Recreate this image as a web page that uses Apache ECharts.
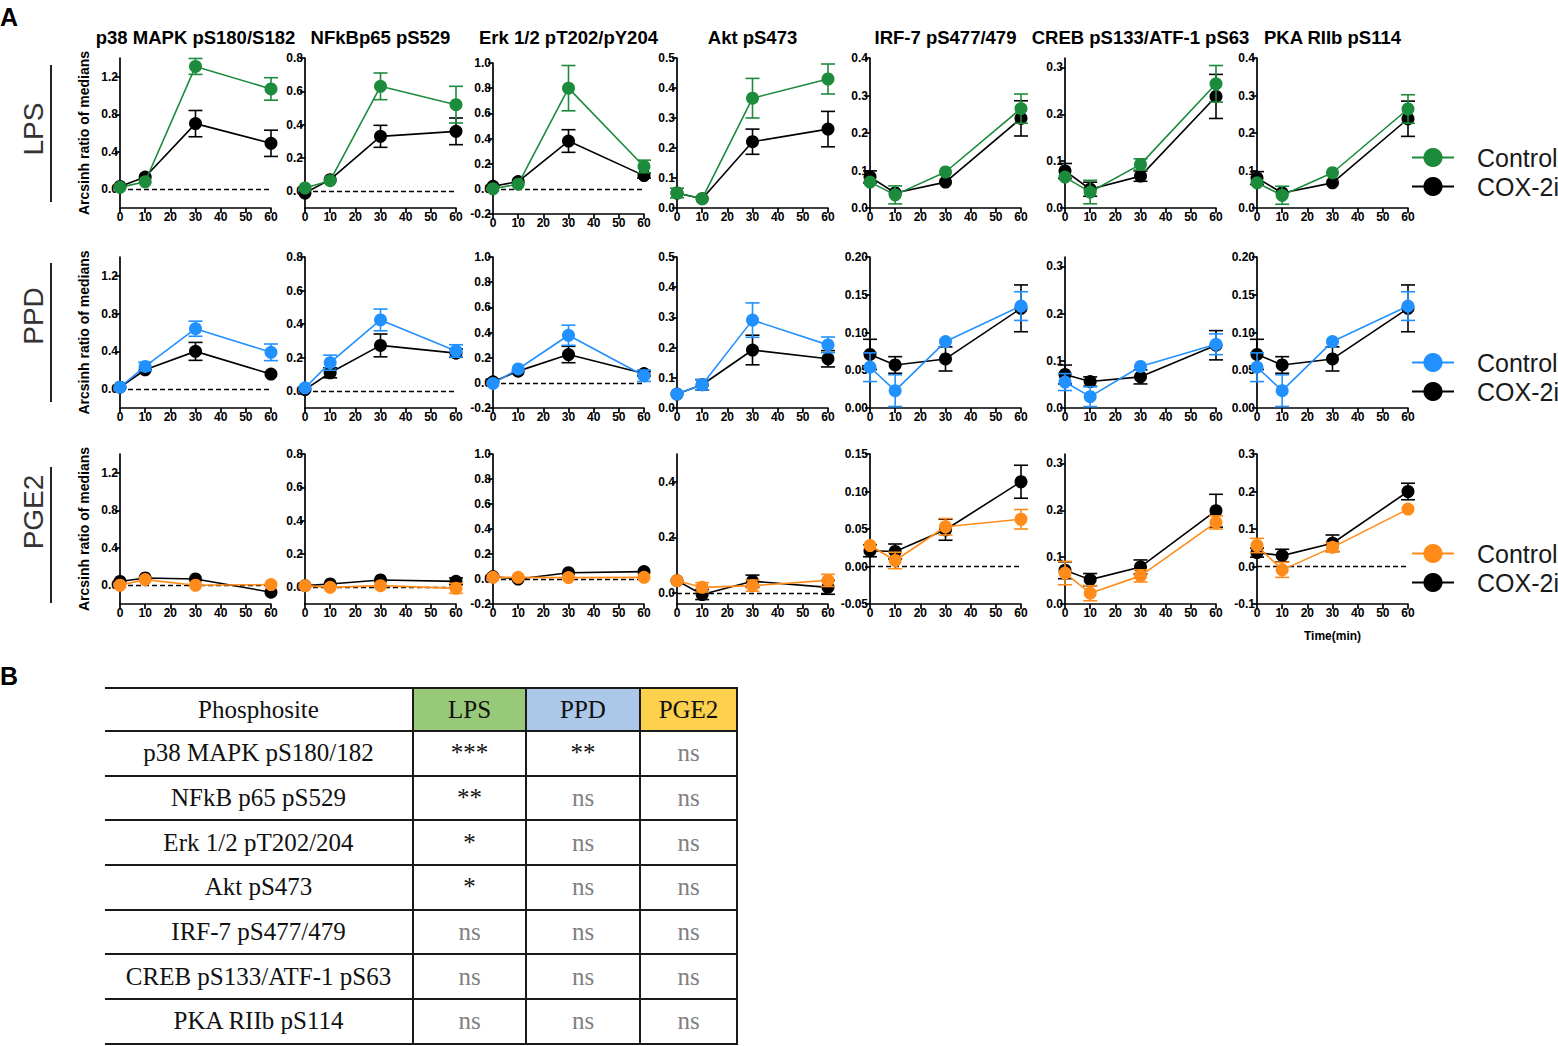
<!DOCTYPE html>
<html>
<head>
<meta charset="utf-8">
<script src="https://cdn.jsdelivr.net/npm/echarts@6/dist/echarts.min.js"></script>
<style>
html,body{margin:0;padding:0;background:#fff;}
#chart{position:absolute;left:0;top:0;width:1558px;height:1046px;}
#tbl{position:absolute;left:105px;top:687px;border-collapse:collapse;table-layout:fixed;font-family:"Liberation Serif","Times New Roman",serif;font-size:25px;color:#111;}
#tbl td{border-top:2px solid #1a1a1a;border-bottom:2px solid #1a1a1a;border-right:2px solid #1a1a1a;text-align:center;padding:0;white-space:nowrap;}
#tbl td.ns{color:#808080;}
</style>
</head>
<body>
<div id="chart"></div>
<table id="tbl"></table>
<script>
// ---------------- DATA ----------------
const times = [0, 10, 30, 60];
const xTickLabels = ['0', '10', '20', '30', '40', '50', '60'];
const panelTitles = ['p38 MAPK pS180/S182', 'NFkBp65 pS529', 'Erk 1/2 pT202/pY204', 'Akt pS473', 'IRF-7 pS477/479', 'CREB pS133/ATF-1 pS63', 'PKA RIIb pS114'];
const stimulusNames = ['LPS', 'PPD', 'PGE2'];
const seriesNames = ['Control', 'COX-2i'];
const yAxisTitle = 'Arcsinh ratio of medians';
const xAxisTitle = 'Time(min)';

// LPS
const lpsControlMean = [[0.02,0.08,1.31,1.07],[0.02,0.064,0.63,0.52],[0.0,0.037,0.80,0.178],[0.05,0.031,0.366,0.43],[0.069,0.035,0.096,0.265],[0.066,0.034,0.093,0.265],[0.067,0.034,0.094,0.264]];
const lpsControlErr  = [[0,0,0.085,0.12],[0,0,0.08,0.11],[0,0,0.18,0.05],[0.016,0,0.066,0.05],[0,0.024,0,0.039],[0,0.025,0.012,0.039],[0,0.024,0,0.038]];
const lpsCox2iMean   = [[0.03,0.13,0.70,0.49],[-0.01,0.07,0.33,0.36],[0.02,0.058,0.38,0.105],[0.05,0.031,0.221,0.263],[0.083,0.04,0.069,0.239],[0.079,0.04,0.068,0.238],[0.08,0.04,0.067,0.238]];
const lpsCox2iErr    = [[0,0,0.14,0.14],[0,0,0.066,0.08],[0,0,0.09,0.02],[0,0,0.042,0.059],[0.016,0,0,0.047],[0.016,0.015,0.011,0.047],[0.017,0,0,0.047]];
// PPD
const ppdControlMean = [[0.02,0.24,0.64,0.39],[0.02,0.17,0.425,0.24],[-0.005,0.11,0.378,0.056],[0.046,0.077,0.291,0.209],[0.054,0.023,0.088,0.135],[0.055,0.024,0.088,0.135],[0.054,0.023,0.088,0.135]];
const ppdControlErr  = [[0,0.045,0.08,0.088],[0,0.045,0.065,0.037],[0,0,0.08,0.045],[0,0.017,0.057,0.026],[0.019,0.021,0,0.019],[0.018,0.021,0,0.022],[0.019,0.021,0,0.019]];
const ppdCox2iMean   = [[0.02,0.205,0.40,0.159],[0.01,0.11,0.273,0.227],[0.008,0.093,0.225,0.074],[0.046,0.077,0.192,0.163],[0.071,0.057,0.065,0.132],[0.071,0.056,0.066,0.133],[0.071,0.057,0.065,0.132]];
const ppdCox2iErr    = [[0,0,0.095,0],[0,0.03,0.068,0.025],[0,0,0.065,0.02],[0,0.017,0.049,0.027],[0.02,0.011,0.016,0.031],[0.02,0.01,0.015,0.031],[0.02,0.011,0.016,0.031]];
// PGE2
const pge2ControlMean = [[0.0,0.06,0.0,0.007],[0.01,0.0,0.01,-0.006],[0.013,0.013,0.011,0.013],[0.044,0.02,0.026,0.045],[0.028,0.008,0.053,0.063],[0.066,0.023,0.06,0.174],[0.056,-0.009,0.051,0.153]];
const pge2ControlErr  = [[0,0,0,0],[0,0,0,0.03],[0,0,0,0],[0,0.017,0.02,0.022],[0,0.011,0.011,0.013],[0.025,0.016,0.013,0.014],[0.019,0.02,0.012,0]];
const pge2Cox2iMean   = [[0.04,0.078,0.067,-0.074],[0.01,0.02,0.044,0.036],[0.019,0.0,0.05,0.059],[0.044,-0.006,0.042,0.02],[0.021,0.02,0.049,0.113],[0.072,0.052,0.079,0.199],[0.037,0.029,0.062,0.2]];
const pge2Cox2iErr    = [[0,0,0,0],[0,0,0,0.02],[0,0,0,0],[0,0.018,0.022,0.025],[0.008,0.01,0.014,0.022],[0.018,0.013,0.015,0.035],[0.012,0.017,0.022,0.022]];

// y axis tick labels and ranges per panel
const lpsYTicks = [['0.0','0.4','0.8','1.2'],['0.0','0.2','0.4','0.6','0.8'],['-0.2','0.0','0.2','0.4','0.6','0.8','1.0'],['0.0','0.1','0.2','0.3','0.4','0.5'],['0.0','0.1','0.2','0.3','0.4'],['0.0','0.1','0.2','0.3'],['0.0','0.1','0.2','0.3','0.4']];
const lpsYRange = [[-0.2,1.4],[-0.1,0.8],[-0.2,1.0],[0,0.5],[0,0.4],[0,0.32],[0,0.4]];
const ppdYTicks = [['0.0','0.4','0.8','1.2'],['0.0','0.2','0.4','0.6','0.8'],['-0.2','0.0','0.2','0.4','0.6','0.8','1.0'],['0.0','0.1','0.2','0.3','0.4','0.5'],['0.00','0.05','0.10','0.15','0.20'],['0.0','0.1','0.2','0.3'],['0.00','0.05','0.10','0.15','0.20']];
const ppdYRange = [[-0.2,1.4],[-0.1,0.8],[-0.2,1.0],[0,0.5],[0,0.2],[0,0.32],[0,0.2]];
const pge2YTicks = [['0.0','0.4','0.8','1.2'],['0.0','0.2','0.4','0.6','0.8'],['-0.2','0.0','0.2','0.4','0.6','0.8','1.0'],['0.0','0.2','0.4'],['-0.05','0.00','0.05','0.10','0.15'],['0.0','0.1','0.2','0.3'],['-0.1','0.0','0.1','0.2','0.3']];
const pge2YRange = [[-0.2,1.4],[-0.1,0.8],[-0.2,1.0],[-0.04,0.5],[-0.05,0.15],[0,0.32],[-0.1,0.3]];

// table
const tableHeader = ['Phosphosite', 'LPS', 'PPD', 'PGE2'];
const tablePhosphosites = ['p38 MAPK pS180/182','NFkB p65 pS529','Erk 1/2 pT202/204','Akt pS473','IRF-7 pS477/479','CREB pS133/ATF-1 pS63','PKA RIIb pS114'];
const lpsSignificance  = ['***','**','*','*','ns','ns','ns'];
const ppdSignificance  = ['**','ns','ns','ns','ns','ns','ns'];
const pge2Significance = ['ns','ns','ns','ns','ns','ns','ns'];

// ---------------- STYLE / LAYOUT ----------------
const controlColors = ['#1c8b3c', '#2191ff', '#ff8c1a'];
const coxColor = '#000000';
const headerColors = ['#ffffff', '#98c979', '#abc8e8', '#fdd04e'];
const colWidths = [308, 113, 114, 97];
const FONT = '"Liberation Sans", Arial, Helvetica, sans-serif';
const colLeft = [120, 305, 493, 677, 870, 1065, 1257];
const panelW = 151;
const rowTop = [58, 257, 454];
const rowBottom = [208, 408, 604];

const rowsData = [
  {ctrl: lpsControlMean, ctrlErr: lpsControlErr, cox: lpsCox2iMean, coxErr: lpsCox2iErr, ticks: lpsYTicks, range: lpsYRange},
  {ctrl: ppdControlMean, ctrlErr: ppdControlErr, cox: ppdCox2iMean, coxErr: ppdCox2iErr, ticks: ppdYTicks, range: ppdYRange},
  {ctrl: pge2ControlMean, ctrlErr: pge2ControlErr, cox: pge2Cox2iMean, coxErr: pge2Cox2iErr, ticks: pge2YTicks, range: pge2YRange}
];

function renderErr(params, api) {
  const x = api.value(0), lo = api.value(1), hi = api.value(2);
  const p1 = api.coord([x, hi]), p2 = api.coord([x, lo]);
  const hw = 7;
  const style = {stroke: api.visual('color'), lineWidth: 1.6, fill: null};
  return {type: 'group', children: [
    {type: 'line', shape: {x1: p1[0], y1: p1[1], x2: p2[0], y2: p2[1]}, style: style},
    {type: 'line', shape: {x1: p1[0] - hw, y1: p1[1], x2: p1[0] + hw, y2: p1[1]}, style: style},
    {type: 'line', shape: {x1: p2[0] - hw, y1: p2[1], x2: p2[0] + hw, y2: p2[1]}, style: style}
  ]};
}

function errSeries(name, mean, err, color, idx, z) {
  const data = [];
  times.forEach((t, i) => { if (err[i] > 0) data.push([t, mean[i] - err[i], mean[i] + err[i]]); });
  return {type: 'custom', name: name, xAxisIndex: idx, yAxisIndex: idx, z: z, silent: true,
    itemStyle: {color: color}, renderItem: renderErr, data: data, encode: {x: 0, y: [1, 2]}, clip: false, animation: false};
}
function lineSeries(name, mean, color, idx, z) {
  return {type: 'line', name: name, xAxisIndex: idx, yAxisIndex: idx, z: z, silent: true,
    data: times.map((t, i) => [t, mean[i]]), symbol: 'circle', symbolSize: 13,
    itemStyle: {color: color}, lineStyle: {color: color, width: 1.6}, clip: false,
    emphasis: {disabled: true}, animation: false};
}

const TICK_FONT = 12;
const grids = [], xAxes = [], yAxes = [], series = [];
rowsData.forEach((rd, r) => {
  for (let c = 0; c < 7; c++) {
    const idx = grids.length;
    let top = rowTop[r], bottom = rowBottom[r];
    if (r === 0 && c === 2) { top = 63; bottom = 214; }
    grids.push({left: colLeft[c], top: top, width: panelW, height: bottom - top, outerBoundsMode: 'none', containLabel: false});
    const xVals = xTickLabels.map(Number);
    const xa = {
      type: 'value', gridIndex: idx, min: xVals[0], max: xVals[xVals.length - 1], interval: 10,
      axisLine: {onZero: false, lineStyle: {color: '#000', width: 1.7}},
      axisTick: {length: 5, lineStyle: {color: '#000', width: 1.7}},
      axisLabel: {color: '#000', fontWeight: 'bold', fontSize: TICK_FONT, fontFamily: FONT, margin: 3,
        formatter: v => { const i = xVals.indexOf(v); return i >= 0 ? xTickLabels[i] : ''; }},
      splitLine: {show: false}
    };
    if (r === 2 && c === 6) {
      xa.name = xAxisTitle; xa.nameLocation = 'middle'; xa.nameGap = 26;
      xa.nameTextStyle = {fontWeight: 'bold', fontSize: 12, color: '#000', fontFamily: FONT};
    }
    xAxes.push(xa);
    const labels = rd.ticks[c];
    const tickVals = labels.map(Number);
    const ya = {
      type: 'value', gridIndex: idx, min: rd.range[c][0], max: rd.range[c][1],
      axisLine: {onZero: false, lineStyle: {color: '#000', width: 1.7}},
      axisTick: {length: 5, lineStyle: {color: '#000', width: 1.7}, customValues: tickVals},
      axisLabel: {color: '#000', fontWeight: 'bold', fontSize: TICK_FONT, fontFamily: FONT, margin: 2, customValues: tickVals,
        formatter: v => { const i = tickVals.findIndex(t => Math.abs(t - v) < 1e-9); return i >= 0 ? labels[i] : ''; }},
      splitLine: {show: false}
    };
    if (c === 0) {
      ya.name = yAxisTitle; ya.nameLocation = 'middle'; ya.nameGap = 29; ya.nameRotate = 90;
      ya.nameTextStyle = {fontWeight: 'bold', fontSize: 14, color: '#000', fontFamily: FONT};
    }
    yAxes.push(ya);

    if (rd.range[c][0] < 0) {
      series.push({type: 'line', name: 'zero', xAxisIndex: idx, yAxisIndex: idx, z: 1, silent: true, data: [],
        markLine: {silent: true, symbol: ['none', 'none'], label: {show: false}, animation: false,
          lineStyle: {color: '#000', type: [5, 3], width: 1.3}, emphasis: {disabled: true}, data: [{yAxis: 0}]}});
    }
    series.push(errSeries('COX-2i err', rd.cox[c], rd.coxErr[c], coxColor, idx, 2));
    series.push(lineSeries(seriesNames[1], rd.cox[c], coxColor, idx, 3));
    series.push(errSeries('Control err', rd.ctrl[c], rd.ctrlErr[c], controlColors[r], idx, 4));
    series.push(lineSeries(seriesNames[0], rd.ctrl[c], controlColors[r], idx, 5));
  }
});

const legendTops = [145, 350, 541];
const legends = stimulusNames.map((s, r) => ({
  orient: 'vertical', left: 1411, top: legendTops[r], itemWidth: 42, itemHeight: 24, itemGap: 4,
  selectedMode: false, padding: 0,
  textStyle: {fontSize: 25, color: '#1a1a1a', fontFamily: FONT, padding: [0, 0, 0, 18]},
  data: [
    {name: seriesNames[0], itemStyle: {color: controlColors[r]}, lineStyle: {color: controlColors[r], width: 2}},
    {name: seriesNames[1], itemStyle: {color: coxColor}, lineStyle: {color: coxColor, width: 2}}
  ]
}));

const graphics = [];
function txt(x, y, text, size, weight, color, rot, align, valign) {
  return {type: 'text', x: x, y: y, rotation: rot || 0, silent: true,
    style: {text: text, fontSize: size, fontWeight: weight, fontFamily: FONT, fill: color,
      align: align, verticalAlign: valign, textAlign: align, textVerticalAlign: valign}};
}
graphics.push(txt(0, 4, 'A', 25, 'bold', '#000', 0, 'left', 'top'));
graphics.push(txt(0, 663, 'B', 25, 'bold', '#000', 0, 'left', 'top'));
panelTitles.forEach((t, c) => graphics.push(txt(colLeft[c] + panelW / 2, 37, t, 18.5, 'bold', '#000', 0, 'center', 'middle')));
const rowLabelY = [129, 316, 512];
const rowLineY = [[65, 202], [263, 402], [467, 603]];
stimulusNames.forEach((s, r) => {
  graphics.push(txt(33, rowLabelY[r], s, 28, 'normal', '#333', Math.PI / 2, 'center', 'middle'));
  graphics.push({type: 'line', silent: true, shape: {x1: 51, y1: rowLineY[r][0], x2: 51, y2: rowLineY[r][1]}, style: {stroke: '#222', lineWidth: 2}});
});

const chart = echarts.init(document.getElementById('chart'), null, {renderer: 'svg'});
chart.setOption({
  animation: false,
  backgroundColor: '#fff',
  grid: grids, xAxis: xAxes, yAxis: yAxes, series: series,
  legend: legends, graphic: graphics, tooltip: {show: false}
});

// ---------------- TABLE ----------------
const tbl = document.getElementById('tbl');
const cg = document.createElement('colgroup');
colWidths.forEach(w => { const col = document.createElement('col'); col.style.width = w + 'px'; cg.appendChild(col); });
tbl.appendChild(cg);
const hr = document.createElement('tr');
tableHeader.forEach((h, i) => {
  const td = document.createElement('td'); td.textContent = h; td.style.background = headerColors[i]; td.style.height = '41px'; hr.appendChild(td);
});
tbl.appendChild(hr);
tablePhosphosites.forEach((p, i) => {
  const tr = document.createElement('tr');
  [p, lpsSignificance[i], ppdSignificance[i], pge2Significance[i]].forEach((v, j) => {
    const td = document.createElement('td'); td.textContent = v; td.style.height = '42.7px';
    if (v === 'ns') td.className = 'ns';
    tr.appendChild(td);
  });
  tbl.appendChild(tr);
});
</script>
</body>
</html>
